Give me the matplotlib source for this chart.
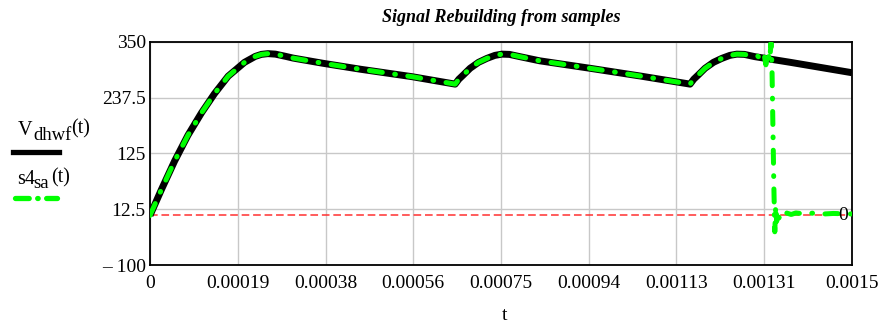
import numpy as np
import matplotlib
matplotlib.use("Agg")
import matplotlib.pyplot as plt
from matplotlib.lines import Line2D

plt.rcParams['font.family'] = ['Liberation Serif', 'DejaVu Serif']

# ============================================================
# DATA
# ============================================================
# V_dhwf(t): rectified + filtered voltage
t_dhwf = [0, 0.0000243, 0.0000527, 0.0000812, 0.00011, 0.000138, 0.000167,
          0.000202, 0.000225, 0.000238, 0.000252, 0.000268, 0.00029, 0.000306,
          0.00037, 0.00045, 0.00056, 0.000652, 0.00066, 0.00067, 0.000684,
          0.000702, 0.00072, 0.000737, 0.000752, 0.000768, 0.00079, 0.000833,
          0.00094, 0.00105, 0.001154, 0.001162, 0.001172, 0.001186, 0.001204,
          0.001222, 0.001239, 0.001254, 0.00127, 0.001292, 0.001368, 0.0015]
v_dhwf = [0, 52, 110, 162, 207, 246, 281,
          309, 321, 325, 326.5, 325.5, 321, 317.5,
          307, 295, 280, 265, 275, 284, 297,
          309, 317, 323, 325.5, 325, 320.5, 312,
          297, 281, 265, 275, 284, 297, 309,
          317, 323, 325.5, 325, 320.5, 309, 288]

# s4_sa(t): rebuilt signal, ringing part after the last sample
t_ring = [0.001298, 0.001305, 0.001312, 0.001316, 0.00132, 0.001324, 0.001327,
          0.001329, 0.001331, 0.001333, 0.001335, 0.001337, 0.001339, 0.001341,
          0.001344, 0.001348, 0.001355, 0.00136, 0.00137, 0.00138, 0.0014,
          0.00142, 0.00144, 0.00146, 0.0015]
v_ring = [322, 316, 326, 304, 330, 312, 348,
          300, 180, 60, -33, 20, -12, 10,
          -5, 6, 2, 5, 2, 5, 3,
          5, 3, 4, 3]

x_ticks = [0, 0.0001875, 0.000375, 0.0005625, 0.00075, 0.0009375, 0.001125, 0.0013125, 0.0015]
x_labels = ['0', '0.00019', '0.00038', '0.00056', '0.00075', '0.00094', '0.00113', '0.00131', '0.0015']
y_ticks = [-100, 12.5, 125, 237.5, 350]
y_labels = ['\u2013 100', '12.5', '125', '237.5', '350']

# green follows the black trace until the ringing starts
n_keep = sum(1 for t in t_dhwf if t < t_ring[0])
t_s4 = t_dhwf[:n_keep] + t_ring
v_s4 = v_dhwf[:n_keep] + v_ring

GREEN = '#00ff00'
DASHDOT = (0, (2.6, 2.5, 0.15, 2.5))

# ============================================================
# PLOT
# ============================================================
W, H = 884, 327
fig = plt.figure(figsize=(W / 100, H / 100), dpi=100)
ax = fig.add_axes([150 / W, 1 - 265 / H, 702 / W, 223 / H])

ax.plot(t_dhwf, v_dhwf, color='black', lw=5.0, solid_capstyle='butt',
        solid_joinstyle='round', zorder=3)
ax.plot(t_s4, v_s4, color=GREEN, lw=3.6, ls=DASHDOT,
        dash_capstyle='round', dash_joinstyle='round', zorder=4)
ax.axhline(0, color='#ff3030', lw=1.1, ls=(0, (5, 2.5)), zorder=2)
ax.text(0.001481, 0, '0', fontsize=14, ha='center', va='center', zorder=5)

ax.set_xlim(0, 0.0015)
ax.set_ylim(-100, 350)
ax.set_xticks(x_ticks)
ax.set_xticklabels(x_labels)
ax.set_yticks(y_ticks)
ax.set_yticklabels(y_labels)
ax.tick_params(length=0, labelsize=14)
ax.tick_params(axis='x', pad=7)
ax.tick_params(axis='y', pad=3)
ax.grid(True, color='#c8c8c8', lw=1.0)
ax.set_axisbelow(True)
for sp in ax.spines.values():
    sp.set_linewidth(1.3)

fig.text(501 / W, 1 - 18 / H, 'Signal Rebuilding from samples', fontsize=13,
         weight='bold', style='italic', ha='center', va='center')
fig.text(505 / W, 1 - 316 / H, 't', fontsize=14, ha='center', va='center')


# legend drawn by hand on the left, Mathcad style (text pieces in pixels)
def ptext(x, y, s, size):
    fig.text(x / W, 1 - y / H, s, fontsize=size, ha='left', va='baseline')


ptext(17.5, 135, 'V', 14.5)
ptext(33.3, 140.5, 'dhwf', 13.5)
ptext(71.5, 133, '(t)', 14.5)
fig.add_artist(Line2D([12.5 / W, 59 / W], [1 - 152 / H, 1 - 152 / H], color='black',
                      lw=3.8, transform=fig.transFigure))
ptext(17, 183.5, 's4', 14.5)
ptext(33.3, 188, 'sa', 13.5)
ptext(51.5, 182.5, '(t)', 14.5)
fig.add_artist(Line2D([15 / W, 57 / W], [1 - 198 / H, 1 - 198 / H], color=GREEN,
                      lw=3.8, ls=(0, (2.6, 1.6, 0.1, 1.6)), dash_capstyle='round',
                      transform=fig.transFigure))

fig.savefig('out.png', dpi=100)
